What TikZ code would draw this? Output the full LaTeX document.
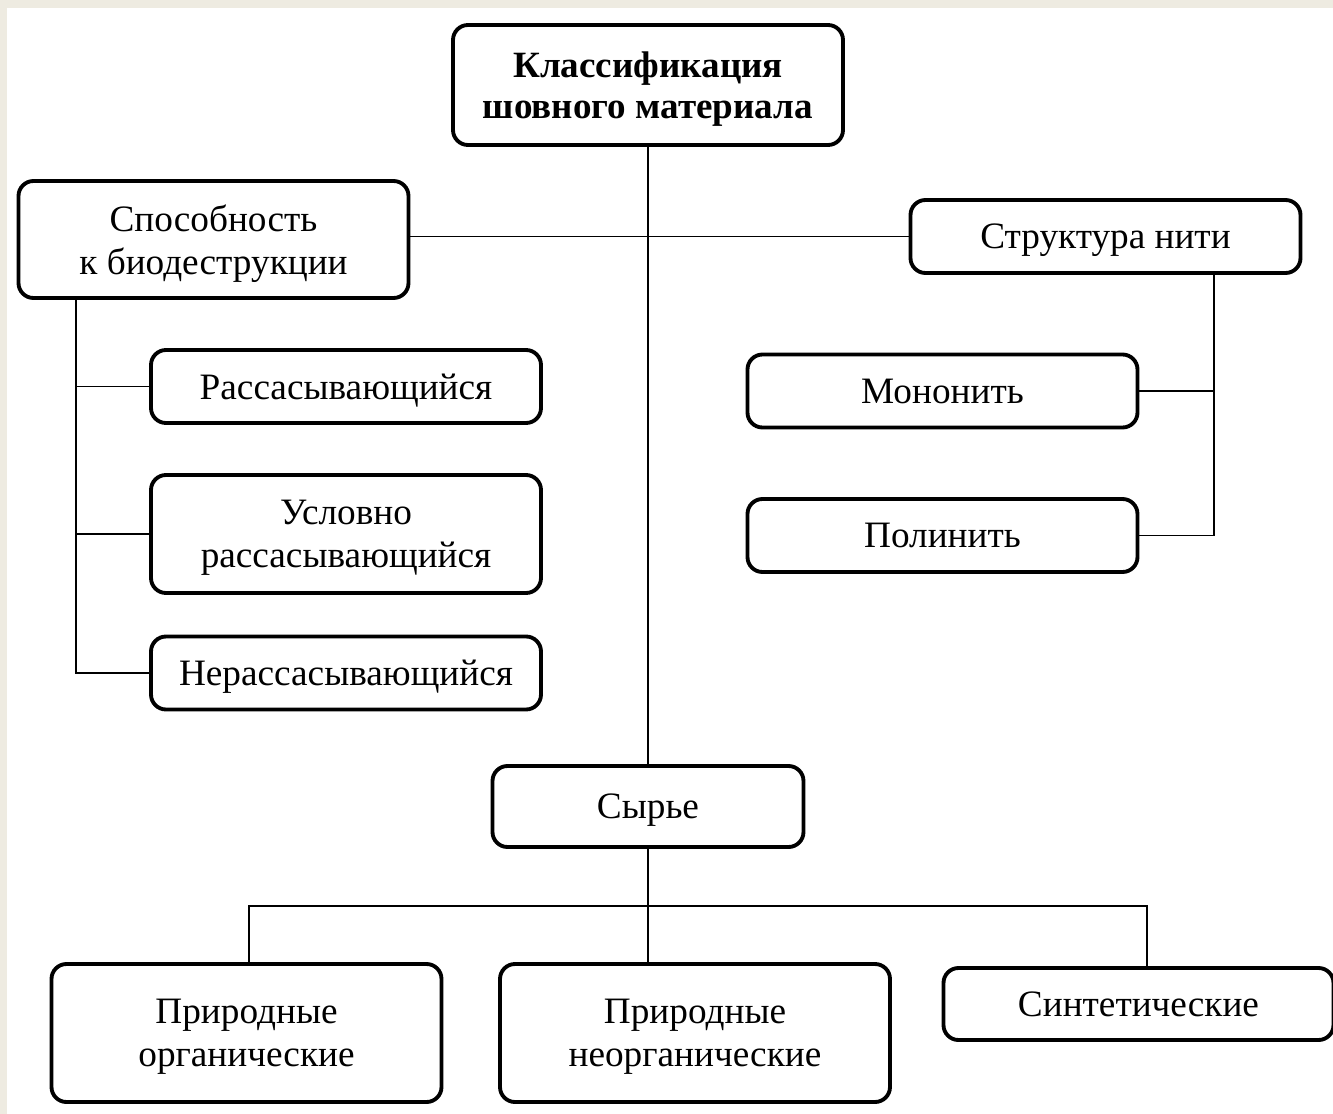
\documentclass[tikz,border=0pt]{standalone}
\usepackage{fontspec}
\setmainfont{Liberation Serif}
\definecolor{framebg}{HTML}{EEEBE1}
\begin{document}
\begin{tikzpicture}[thick]

    \tikzset{block/.style={%
      draw,%
      rectangle,%
      rounded corners=0.3cm,%
      line width=2.2pt,%
      align=center,%
      inner sep=0pt,%
      text depth=0pt,%
      minimum width=7.8cm,%
      minimum height=1.46cm,%
      font=\fontsize{21.2}{24.5}\selectfont}%
    };

    \tikzset{link/.style={draw, line width=1.1pt}};

    % frame and page
    \fill[framebg] (0,0) rectangle (26.66,-22.28);
    \fill[white] (0.14,-0.16) rectangle (26.66,-22.28);
    \useasboundingbox (0,0) rectangle (26.66,-22.28);

    %%%%%%%%%%%%%%%
    %   boxes     %
    %%%%%%%%%%%%%%%
    \node[block, minimum height=2.4cm, font=\fontsize{21.1}{23.5}\selectfont\bfseries] (klass) at (12.96,-1.70) {Классификация\\шовного материала};
    \node[block, minimum height=2.34cm] (sposob) at (4.27,-4.79) {Способность\\к биодеструкции};
    \node[block] (struct) at (22.11,-4.73) {Структура нити};

    \node[block] (rass) at (6.92,-7.73) {Рассасывающийся};
    \node[block, minimum height=2.36cm] (uslov) at (6.92,-10.68) {Условно\\рассасывающийся};
    \node[block] (nerass) at (6.92,-13.46) {Нерассасывающийся};

    \node[block] (mono) at (18.85,-7.82) {Мононить};
    \node[block] (poli) at (18.85,-10.71) {Полинить};

    \node[block, minimum width=6.22cm, minimum height=1.62cm] (syrie) at (12.96,-16.13) {Сырье};

    \node[block, minimum height=2.76cm] (org) at (4.93,-20.66) {Природные\\органические};
    \node[block, minimum height=2.76cm] (neorg) at (13.90,-20.66) {Природные\\неорганические};
    \node[block, minimum height=1.44cm] (synt) at (22.77,-20.08) {Синтетические};

    %%%%%%%%%%%%%%%
    %   links     %
    %%%%%%%%%%%%%%%
    \coordinate (lbus) at (1.52,0);
    \coordinate (rbus) at (24.28,0);
    \coordinate (bbus) at (12.96,-18.12);

    \path[link] (klass.south) -- (syrie.north);
    \path[link] (struct.west -| sposob.east) -- (struct.west);

    \path[link] (sposob.south -| lbus) |- (rass.west);
    \path[link] (sposob.south -| lbus) |- (uslov.west);
    \path[link] (sposob.south -| lbus) |- (nerass.west);

    \path[link] (struct.south -| rbus) |- (mono.east);
    \path[link] (struct.south -| rbus) |- (poli.east);

    \path[link] (syrie.south) -- (neorg.north -| syrie.south);
    \path[link] ([xshift=0.05cm]org.north) |- (bbus) -| ([xshift=0.17cm]synt.north);

  \end{tikzpicture}
\end{document}
